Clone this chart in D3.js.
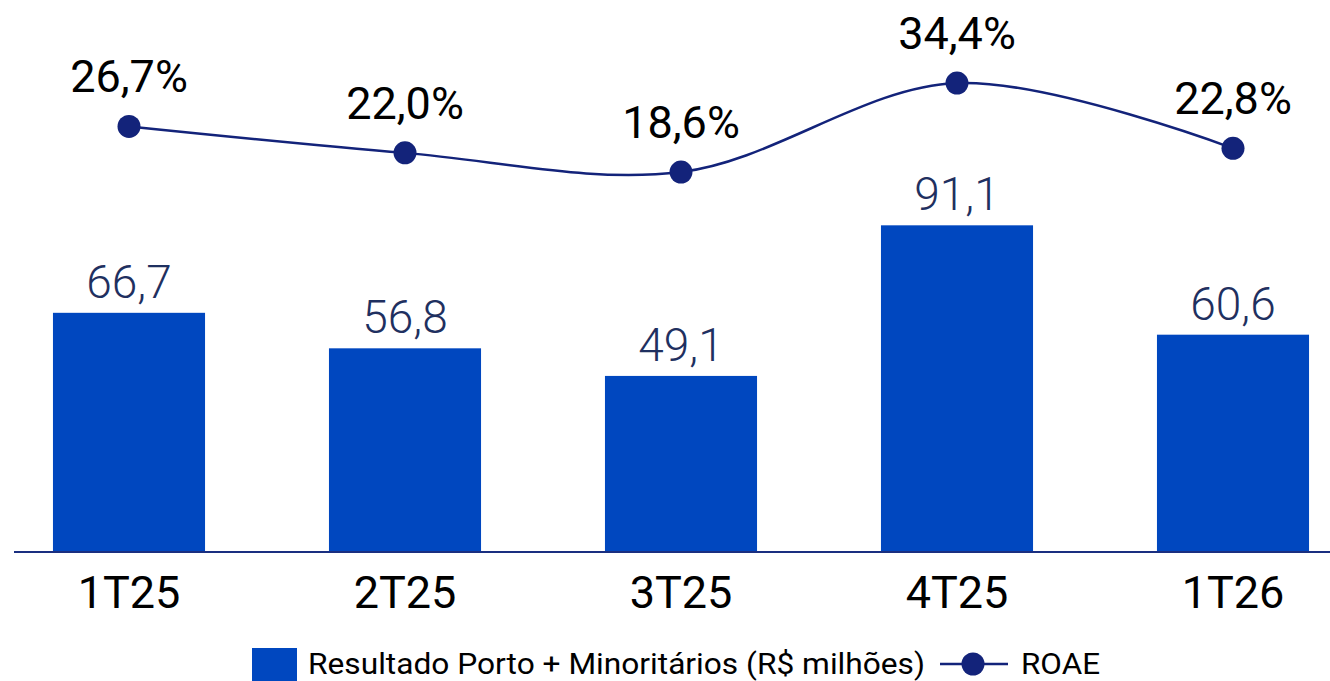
<!DOCTYPE html>
<html>
<head>
<meta charset="utf-8">
<script src="https://cdn.jsdelivr.net/npm/d3@7"></script>
<style>
  body {margin: 0; background: #fff;}
  text {font-family: Roboto, "Noto Sans", sans-serif;}
</style>
</head>
<body>
<script>
const categories = ['1T25', '2T25', '3T25', '4T25', '1T26']
const resultado = [66.7, 56.8, 49.1, 91.1, 60.6]
const roae = [26.7, 22.0, 18.6, 34.4, 22.8]
const seriesNames = ['Resultado Porto + Minoritários (R$ milhões)', 'ROAE']

const svgWidth = 1330
const svgHeight = 681
const barColor = '#0047bf'
const lineColor = '#13237a'
const fmt = v => v.toFixed(1).replace('.', ',')

const svg = d3.select('body').append('svg')
  .attr('width', svgWidth).attr('height', svgHeight)

const baseY = 552

// escalas
const x = d3.scaleBand()
  .domain(categories)
  .range([-9, 1371])
  .paddingInner(0.449)
  .paddingOuter(0.2245)

const y = d3.scaleLinear().domain([0, 100]).range([baseY, baseY - 358.6])
const y2 = d3.scaleLinear().domain([0, 40]).range([276.8, 276.8 - 5.633 * 40])

// barras
svg.append('g').selectAll('rect').data(resultado).enter().append('rect')
  .attr('x', (d, i) => x(categories[i]))
  .attr('width', x.bandwidth())
  .attr('y', d => y(d))
  .attr('height', d => baseY - y(d))
  .attr('fill', barColor)

svg.append('g').selectAll('text').data(resultado).enter().append('text')
  .attr('x', (d, i) => x(categories[i]) + x.bandwidth() / 2)
  .attr('y', d => y(d) - 15)
  .attr('text-anchor', 'middle')
  .attr('font-size', 46)
  .attr('font-weight', 300)
  .attr('fill', '#1f3060')
  .text(d => fmt(d))

// eixo x
const xAxis = svg.append('g')
  .attr('transform', `translate(0,${baseY})`)
  .call(d3.axisBottom(x).tickSize(0).tickPadding(24))
xAxis.select('.domain')
  .attr('d', `M14,0H1330`)
  .attr('stroke', '#1a2f80')
  .attr('stroke-width', 2)
xAxis.selectAll('text')
  .attr('font-size', 45)
  .attr('fill', '#000')
  .attr('dy', '0.71em')

// linha ROAE
const cx = (d, i) => x(categories[i]) + x.bandwidth() / 2
const line = d3.line()
  .x(cx)
  .y(d => y2(d))
  .curve(d3.curveCatmullRom.alpha(0.5))

svg.append('path').datum(roae)
  .attr('d', line)
  .attr('fill', 'none')
  .attr('stroke', lineColor)
  .attr('stroke-width', 2.5)

svg.append('g').selectAll('circle').data(roae).enter().append('circle')
  .attr('cx', cx)
  .attr('cy', d => y2(d))
  .attr('r', 11.5)
  .attr('fill', lineColor)

svg.append('g').selectAll('text').data(roae).enter().append('text')
  .attr('x', cx)
  .attr('y', d => y2(d) - 34)
  .attr('text-anchor', 'middle')
  .attr('font-size', 45)
  .attr('fill', '#000')
  .text(d => fmt(d) + '%')

// legenda
const legend = svg.append('g')
legend.append('rect')
  .attr('x', 252).attr('y', 648).attr('width', 45).attr('height', 33)
  .attr('fill', barColor)
legend.append('text')
  .attr('x', 308).attr('y', 674)
  .attr('font-size', 29)
  .attr('fill', '#000')
  .attr('textLength', 617)
  .attr('lengthAdjust', 'spacingAndGlyphs')
  .text(seriesNames[0])
legend.append('line')
  .attr('x1', 940).attr('x2', 1008).attr('y1', 664).attr('y2', 664)
  .attr('stroke', lineColor).attr('stroke-width', 2.5)
legend.append('circle')
  .attr('cx', 973).attr('cy', 664).attr('r', 11.5)
  .attr('fill', lineColor)
legend.append('text')
  .attr('x', 1021).attr('y', 674)
  .attr('font-size', 29)
  .attr('fill', '#000')
  .attr('textLength', 79)
  .attr('lengthAdjust', 'spacingAndGlyphs')
  .text(seriesNames[1])
</script>
</body>
</html>
